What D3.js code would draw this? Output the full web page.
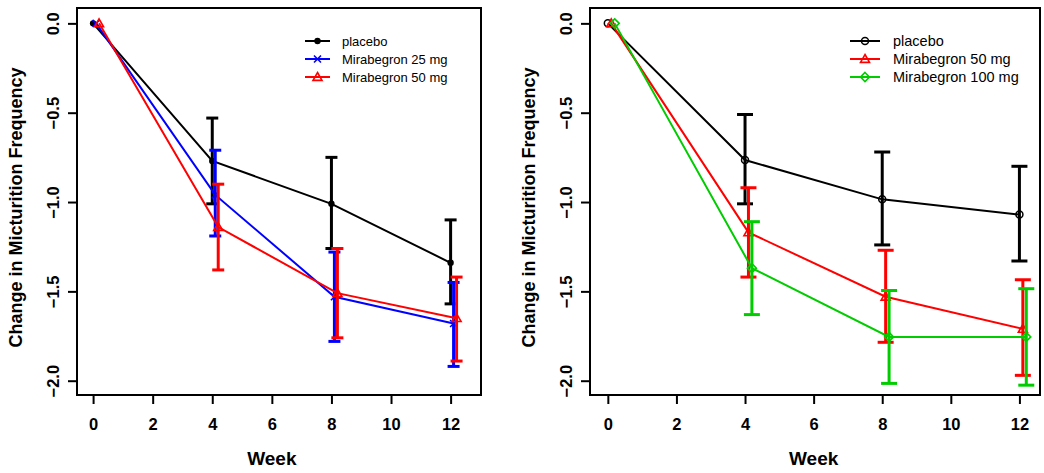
<!DOCTYPE html>
<html>
<head>
<meta charset="utf-8">
<script src="https://cdn.jsdelivr.net/npm/d3@7"></script>
<style>
  body { margin: 0; background: #fff; }
  svg { display: block; font-family: "Liberation Sans", Arial, sans-serif; }
</style>
</head>
<body>
<svg id="chart" width="1044" height="473"></svg>
<script>
// weeks and tick labels
var xTicks = [0, 2, 4, 6, 8, 10, 12];
var yTicks = [0, -0.5, -1, -1.5, -2];

// left panel: placebo vs mirabegron 25 / 50 mg
var leftPlaceboX = [0, 4, 8, 12];
var leftPlaceboMean = [0, -0.77, -1.01, -1.34];
var leftPlaceboLo = [0, -1.01, -1.26, -1.57];
var leftPlaceboHi = [0, -0.53, -0.75, -1.10];

var left25X = [0.1, 4.1, 8.1, 12.1];
var left25Mean = [0, -0.96, -1.53, -1.68];
var left25Lo = [0, -1.19, -1.78, -1.92];
var left25Hi = [0, -0.71, -1.28, -1.45];

var left50X = [0.2, 4.2, 8.2, 12.2];
var left50Mean = [0, -1.14, -1.51, -1.65];
var left50Lo = [0, -1.38, -1.76, -1.89];
var left50Hi = [0, -0.90, -1.26, -1.42];

// right panel: placebo vs mirabegron 50 / 100 mg
var rightPlaceboX = [0, 4, 8, 12];
var rightPlaceboMean = [0, -0.765, -0.985, -1.07];
var rightPlaceboLo = [0, -1.01, -1.24, -1.33];
var rightPlaceboHi = [0, -0.51, -0.72, -0.80];

var right50X = [0.1, 4.1, 8.1, 12.1];
var right50Mean = [0, -1.17, -1.53, -1.71];
var right50Lo = [0, -1.42, -1.785, -1.97];
var right50Hi = [0, -0.92, -1.27, -1.435];

var right100X = [0.2, 4.2, 8.2, 12.2];
var right100Mean = [0, -1.37, -1.755, -1.755];
var right100Lo = [0, -1.63, -2.015, -2.025];
var right100Hi = [0, -1.11, -1.495, -1.485];

function zipSeries(xs, m, lo, hi) {
  return xs.map(function(x, i) { return {x: x, y: m[i], lo: lo[i], hi: hi[i]}; });
}

var svg = d3.select("#chart");

var panels = [
  {
    left: 77, right: 481, top: 8, bottom: 395,
    xDomain: [-0.54, 13.02], cap: 12, legX: 305, legW: 25, legTextX: 342, legFont: 13,
    series: [
      {name: "placebo", color: "#000", shape: "dot", data: zipSeries(leftPlaceboX, leftPlaceboMean, leftPlaceboLo, leftPlaceboHi)},
      {name: "Mirabegron 25 mg", color: "#0000ff", shape: "cross", data: zipSeries(left25X, left25Mean, left25Lo, left25Hi)},
      {name: "Mirabegron 50 mg", color: "#ff0000", shape: "triangle", data: zipSeries(left50X, left50Mean, left50Lo, left50Hi)}
    ]
  },
  {
    left: 590, right: 1040, top: 8, bottom: 395,
    xDomain: [-0.52, 12.6], cap: 16, legX: 850, legW: 30, legTextX: 893, legFont: 14.5,
    series: [
      {name: "placebo", color: "#000", shape: "circle", data: zipSeries(rightPlaceboX, rightPlaceboMean, rightPlaceboLo, rightPlaceboHi)},
      {name: "Mirabegron 50 mg", color: "#ff0000", shape: "triangle", data: zipSeries(right50X, right50Mean, right50Lo, right50Hi)},
      {name: "Mirabegron 100 mg", color: "#00cc00", shape: "diamond", data: zipSeries(right100X, right100Mean, right100Lo, right100Hi)}
    ]
  }
];

function drawMarker(g, shape, color, x, y) {
  if (shape === "dot") {
    g.append("circle").attr("cx", x).attr("cy", y).attr("r", 3.2).attr("fill", color);
  } else if (shape === "circle") {
    g.append("circle").attr("cx", x).attr("cy", y).attr("r", 3.5)
      .attr("fill", "none").attr("stroke", color).attr("stroke-width", 1.5);
  } else if (shape === "cross") {
    var s = 3.5;
    g.append("path").attr("d", "M" + (x - s) + "," + (y - s) + "L" + (x + s) + "," + (y + s) +
        "M" + (x - s) + "," + (y + s) + "L" + (x + s) + "," + (y - s))
      .attr("stroke", color).attr("stroke-width", 1.6);
  } else if (shape === "triangle") {
    var t = 4.5;
    g.append("path").attr("d", "M" + x + "," + (y - t) + "L" + (x + t) + "," + (y + t * 0.75) +
        "L" + (x - t) + "," + (y + t * 0.75) + "Z")
      .attr("fill", "none").attr("stroke", color).attr("stroke-width", 1.6);
  } else if (shape === "diamond") {
    var d = 4.5;
    g.append("path").attr("d", "M" + x + "," + (y - d) + "L" + (x + d) + "," + y +
        "L" + x + "," + (y + d) + "L" + (x - d) + "," + y + "Z")
      .attr("fill", "none").attr("stroke", color).attr("stroke-width", 1.6);
  }
}

panels.forEach(function(p) {
  var x = d3.scaleLinear().domain(p.xDomain).range([p.left, p.right]);
  var y = d3.scaleLinear().domain([-2.08, 0.086]).range([p.bottom, p.top]);
  var g = svg.append("g");

  // axes
  var xAxis = g.append("g")
    .attr("transform", "translate(0," + p.bottom + ")")
    .call(d3.axisBottom(x).tickValues(xTicks).tickSize(9).tickPadding(14).tickFormat(d3.format("d")));
  var yAxis = g.append("g")
    .attr("transform", "translate(" + p.left + ",0)")
    .call(d3.axisLeft(y).tickValues(yTicks).tickSize(9).tickPadding(6).tickFormat(d3.format(".1f")));

  [xAxis, yAxis].forEach(function(a) {
    a.select(".domain").remove();
    a.selectAll(".tick line").attr("stroke", "#000").attr("stroke-width", 2);
    a.selectAll("text").attr("fill", "#000").attr("font-size", 16.5).attr("font-weight", "bold")
      .attr("font-family", "Liberation Sans, Arial, sans-serif");
  });
  xAxis.selectAll("text").attr("dy", "0.71em");
  yAxis.selectAll("text")
    .attr("text-anchor", "middle")
    .attr("dy", null)
    .attr("x", null)
    .attr("transform", "translate(-22,0) rotate(-90)")
    .attr("y", 0)
    .attr("dominant-baseline", "middle");

  // plot frame
  g.append("rect")
    .attr("x", p.left).attr("y", p.top)
    .attr("width", p.right - p.left).attr("height", p.bottom - p.top)
    .attr("fill", "none").attr("stroke", "#000").attr("stroke-width", 2);

  // axis titles
  g.append("text")
    .attr("x", (x(0) + x(12)) / 2).attr("y", 465)
    .attr("text-anchor", "middle").attr("font-size", 19).attr("font-weight", "bold")
    .text("Week");
  g.append("text")
    .attr("transform", "translate(" + (p.left - 55) + "," + ((p.top + p.bottom) / 2 + 6) + ") rotate(-90)")
    .attr("text-anchor", "middle").attr("font-size", 18).attr("font-weight", "bold")
    .text("Change in Micturition Frequency");

  var line = d3.line().x(function(d) { return x(d.x); }).y(function(d) { return y(d.y); });

  p.series.forEach(function(s) {
    var sg = g.append("g");
    sg.append("path").datum(s.data).attr("d", line)
      .attr("fill", "none").attr("stroke", s.color).attr("stroke-width", 2);

    s.data.forEach(function(d) {
      drawMarker(sg, s.shape, s.color, x(d.x), y(d.y));
      if (d.hi === d.lo) return;
      var cx = x(d.x);
      sg.append("line").attr("x1", cx).attr("x2", cx).attr("y1", y(d.hi)).attr("y2", y(d.lo))
        .attr("stroke", s.color).attr("stroke-width", 3);
      [d.hi, d.lo].forEach(function(v) {
        sg.append("line").attr("x1", cx - p.cap / 2).attr("x2", cx + p.cap / 2)
          .attr("y1", y(v)).attr("y2", y(v))
          .attr("stroke", s.color).attr("stroke-width", 3);
      });
    });
  });

  // legend
  var leg = g.append("g");
  p.series.forEach(function(s, i) {
    var ly = 41 + i * 18;
    leg.append("line").attr("x1", p.legX).attr("x2", p.legX + p.legW).attr("y1", ly).attr("y2", ly)
      .attr("stroke", s.color).attr("stroke-width", 2);
    drawMarker(leg, s.shape, s.color, p.legX + p.legW / 2, ly);
    leg.append("text").attr("x", p.legTextX).attr("y", ly).attr("dy", "0.35em")
      .attr("font-size", p.legFont).attr("fill", "#000").text(s.name);
  });
});
</script>
</body>
</html>
